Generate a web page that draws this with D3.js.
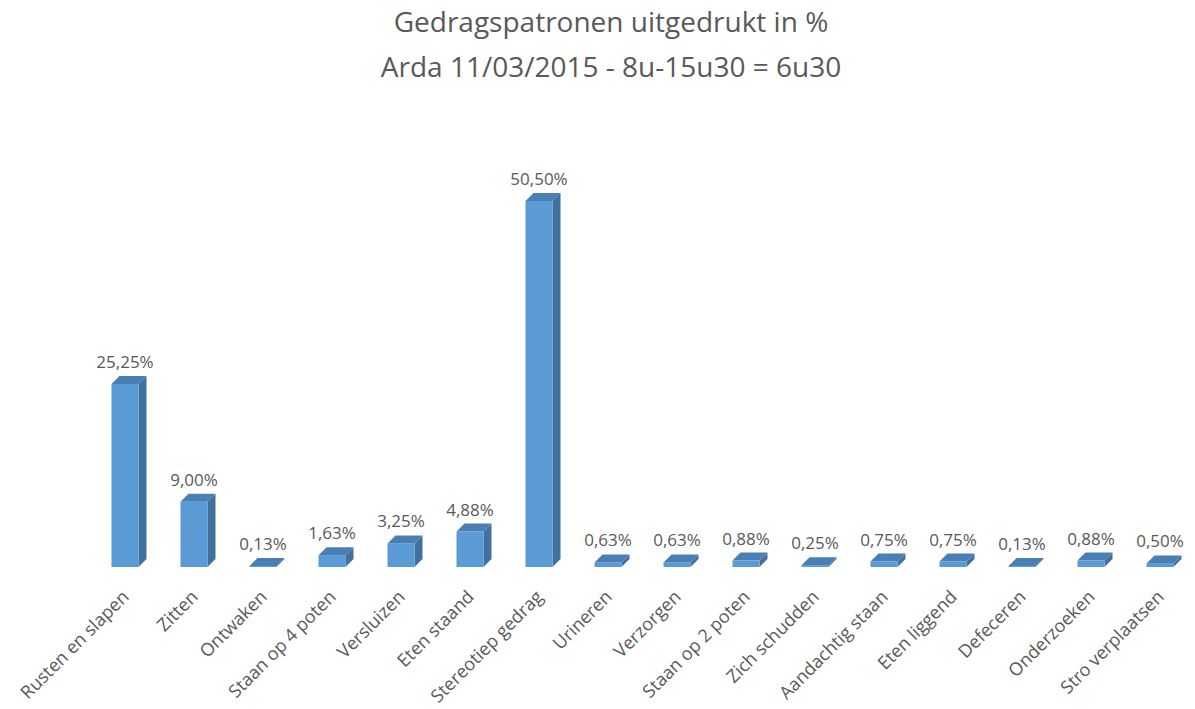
<!DOCTYPE html>
<html>
<head>
<meta charset="utf-8">
<script src="https://cdn.jsdelivr.net/npm/d3@7"></script>
<style>
  body { margin: 0; background: #fff; }
  text { font-family: "Open Sans", "Noto Sans", sans-serif; fill: #595959; }
</style>
</head>
<body>
<svg id="chart" width="1195" height="709"></svg>
<script>
const titleLines = ['Gedragspatronen uitgedrukt in %', 'Arda 11/03/2015 - 8u-15u30 = 6u30'];

const categories = [
  'Rusten en slapen', 'Zitten', 'Ontwaken', 'Staan op 4 poten', 'Versluizen',
  'Eten staand', 'Stereotiep gedrag', 'Urineren', 'Verzorgen', 'Staan op 2 poten',
  'Zich schudden', 'Aandachtig staan', 'Eten liggend', 'Defeceren', 'Onderzoeken',
  'Stro verplaatsen'
];
const values = [25.25, 9.00, 0.13, 1.63, 3.25, 4.88, 50.50, 0.63, 0.63, 0.88, 0.25, 0.75, 0.75, 0.13, 0.88, 0.50];

const fmt = v => v.toFixed(2).replace('.', ',') + '%';

const svg = d3.select('#chart');
const baseY = 567;
const barW = 27;
const depth = 8;

const x = d3.scalePoint()
  .domain(categories)
  .range([90.5, 1194.5])
  .padding(0.5);

const y = d3.scaleLinear()
  .domain([0, 60])
  .range([baseY, baseY - 435]);

// title
svg.selectAll('.title')
  .data(titleLines)
  .join('text')
  .attr('class', 'title')
  .attr('x', 611)
  .attr('y', (d, i) => 32 + i * 45)
  .attr('text-anchor', 'middle')
  .style('font-size', '28px')
  .text(d => d);

const data = categories.map((c, i) => ({ cat: c, val: values[i] }));

const bars = svg.append('g').selectAll('g.bar')
  .data(data)
  .join('g')
  .attr('class', 'bar');

// side face
bars.append('path')
  .attr('fill', '#41719c')
  .attr('d', d => {
    const x1 = x(d.cat) + barW / 2, yt = y(d.val);
    return `M${x1},${baseY}L${x1},${yt}L${x1 + depth},${yt - depth}L${x1 + depth},${baseY - depth}Z`;
  });

// front face
bars.append('rect')
  .attr('fill', '#5b9bd5')
  .attr('x', d => x(d.cat) - barW / 2)
  .attr('y', d => y(d.val))
  .attr('width', barW)
  .attr('height', d => baseY - y(d.val));

// top face
bars.append('path')
  .attr('fill', '#4a7fb5')
  .attr('d', d => {
    const x0 = x(d.cat) - barW / 2, yt = y(d.val);
    return `M${x0},${yt}L${x0 + barW},${yt}L${x0 + barW + depth},${yt - depth}L${x0 + depth},${yt - depth}Z`;
  });

// value labels
bars.append('text')
  .attr('x', d => x(d.cat))
  .attr('y', d => y(d.val) - 16)
  .attr('text-anchor', 'middle')
  .style('font-size', '17px')
  .text(d => fmt(d.val));

// category labels
svg.append('g').selectAll('text')
  .data(categories)
  .join('text')
  .attr('text-anchor', 'end')
  .attr('transform', d => `translate(${x(d) + 5},${baseY + 31}) rotate(-45)`)
  .style('font-size', '18px')
  .text(d => d);
</script>
</body>
</html>
